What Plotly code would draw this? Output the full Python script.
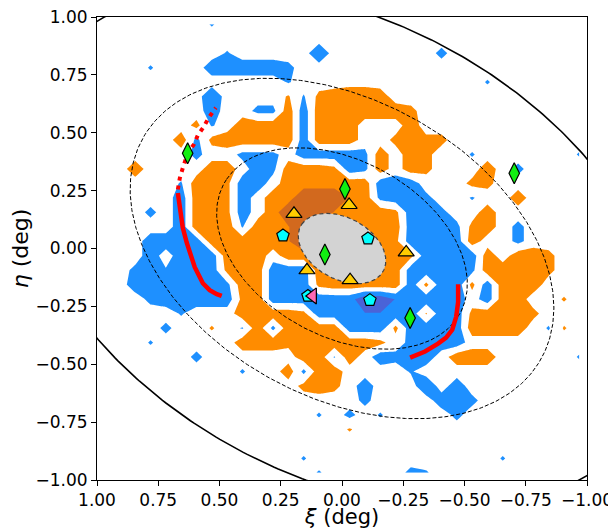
import numpy as np
import plotly.graph_objects as go

# ---------------- data ----------------
# 32x32 binned residual map, bin centres at +/-0.96875 ... step 0.0625 deg
# rows: top (eta=+0.97) -> bottom ; columns: left (xi=+0.97) -> right (xi=-0.97)
# '.' none, blue levels q<w<b<B<D (D = strongest), orange levels r<p<o<O<K (K = strongest)
GRID_ROWS = [
    ".......q........................",
    "................................",
    "........q.....B.......w.........",
    "...q...bbbbbw...................",
    "............q............q......",
    ".......B....rqpoOOo.............",
    ".......b..wwoboOOooop...........",
    "......pq.oooobo" "Oo...o...........",
    ".....owpooooobooo..popp.........",
    "......w..www.bbbbwo.op..q......q",
    "..o....oo.bwooopbwo.op...o.w....",
    ".....qoopbb.oooooobbb...pp......",
    ".....boopb.ooKKKOowbbw..q..o....",
    "...w.boopb.oKKKOooopbbw..o......",
    ".....boooqooOKoooooobbbwpo.w....",
    "...bbbboooooOKooooopbbbbo..w....",
    "...b.bbbooo.oooooooopbbbbo.oop...",
    "..wbqbbbpoobbboooooobbbbwoooop..",
    "..bbbbbbwoobbbpooooobpbbpbooo...",
    "...wbbbbbpobbbbbbDDBbbbb.boo..r.",
    ".....q...oooopbbbBBbbrbbpooop...",
    "....w..r.qowoooobbbpbbbboooo.qr.",
    "...q.....ooopooooop.wbbb.........",
    "......w......ooqo.bwwb.ooo.....q",
    ".........q..owoo....q...........",
    ".............pop.b...B.b........",
    ".................w....bbw.......",
    "..............q.w.q....w........",
    "................r...............",
    "................................",
    ".............q............q.....",
    "..............q.....wq..........",
]
LEVEL_VALUE = {'.': 0.0, 'q': -1.2, 'w': -1.6, 'b': -2.2, 'B': -2.9, 'D': -4.5,
               'r': 1.2, 'p': 1.6, 'o': 2.2, 'O': 2.9, 'K': 4.5}
N_BINS = 32
BIN_WIDTH = 0.0625

# ellipses (semi-major axes in deg), common axis ratio and orientation
ELLIPSE_MASK_A = 0.195
ELLIPSE_INNER_A = 0.558
ELLIPSE_OUTER_A = 0.943
ELLIPSE_EDGE_A = 1.438
ELLIPSE_RATIO = 0.67
ELLIPSE_ANGLE_DEG = 32.5

# red tracks
TRACK_LEFT_XI = [0.670, 0.662, 0.650, 0.634, 0.621, 0.601, 0.568, 0.540, 0.511, 0.491]
TRACK_LEFT_ETA = [0.240, 0.175, 0.090, 0.026, -0.017, -0.081, -0.150, -0.180, -0.197, -0.205]
TRACK_DOT_XI = [0.670, 0.662, 0.650, 0.630, 0.605, 0.589, 0.564, 0.544, 0.515]
TRACK_DOT_ETA = [0.255, 0.304, 0.347, 0.411, 0.449, 0.488, 0.526, 0.565, 0.608]
TRACK_RIGHT_XI = [-0.474, -0.474, -0.466, -0.450, -0.425, -0.392, -0.339, -0.278]
TRACK_RIGHT_ETA = [-0.154, -0.231, -0.295, -0.351, -0.385, -0.411, -0.445, -0.471]

# objects
DIAMOND_XI = [0.630, -0.012, 0.070, -0.278, -0.703]
DIAMOND_ETA = [0.411, 0.257, -0.026, -0.300, 0.325]
TRIANGLE_XI = [0.196, -0.029, -0.262, 0.143, -0.033]
TRIANGLE_ETA = [0.150, 0.188, -0.017, -0.094, -0.137]
PENTAGON_XI = [0.241, -0.106, -0.114, 0.139]
PENTAGON_ETA = [0.056, 0.043, -0.223, -0.205]
PINK_XI = [0.119]
PINK_ETA = [-0.205]

TICK_VALS = [1.0, 0.75, 0.5, 0.25, 0.0, -0.25, -0.5, -0.75, -1.0]
TICK_TEXT = ["1.00", "0.75", "0.50", "0.25", "0.00", "\u22120.25", "\u22120.50", "\u22120.75", "\u22121.00"]

# ---------------- build ----------------
rows = [r.ljust(N_BINS, '.')[:N_BINS] for r in GRID_ROWS]
Z = np.array([[LEVEL_VALUE.get(ch, 0.0) for ch in r] for r in rows])
centres_desc = (N_BINS / 2 - 0.5 - np.arange(N_BINS)) * BIN_WIDTH  # +0.969 ... -0.969
x_inc = centres_desc[::-1]
y_inc = centres_desc[::-1]
z_plot = Z[::-1, ::-1]

DBLUE, BLUE, ORANGE, DORANGE = "#4a63d8", "#1e90ff", "#ff8c00", "#d2691e"
CLEAR = "rgba(255,255,255,0)"


def band_scale(c1, c2):
    return [[0.0, CLEAR], [0.25, CLEAR], [0.25, c1], [0.75, c1], [0.75, c2], [1.0, c2]]


fig = go.Figure()
for sign, c1, c2 in ((-1, BLUE, DBLUE), (1, ORANGE, DORANGE)):
    fig.add_trace(go.Contour(
        x=x_inc, y=y_inc, z=sign * z_plot,
        contours=dict(start=1, end=3, size=2, coloring="fill", showlines=False),
        line=dict(width=0, smoothing=0),
        colorscale=band_scale(c1, c2), showscale=False, hoverinfo="skip"))


def ellipse(a, n=500):
    t = np.linspace(0, 2 * np.pi, n)
    th = np.radians(ELLIPSE_ANGLE_DEG)
    b = a * ELLIPSE_RATIO
    x = a * np.cos(t) * np.cos(th) - b * np.sin(t) * np.sin(th)
    y = a * np.cos(t) * np.sin(th) + b * np.sin(t) * np.cos(th)
    return x, y


mx, my = ellipse(ELLIPSE_MASK_A)
fig.add_trace(go.Scatter(x=mx, y=my, mode="lines", fill="toself", fillcolor="#d3d3d3",
                         line=dict(color="#444444", width=1.2, dash="4px,3px"), hoverinfo="skip"))
for a in (ELLIPSE_INNER_A, ELLIPSE_OUTER_A):
    ex, ey = ellipse(a)
    fig.add_trace(go.Scatter(x=ex, y=ey, mode="lines",
                             line=dict(color="black", width=1, dash="4px,2px"), hoverinfo="skip"))
ex, ey = ellipse(ELLIPSE_EDGE_A)
fig.add_trace(go.Scatter(x=ex, y=ey, mode="lines", line=dict(color="black", width=1.6), hoverinfo="skip"))

fig.add_trace(go.Scatter(x=TRACK_LEFT_XI, y=TRACK_LEFT_ETA, mode="lines",
                         line=dict(color="red", width=4.5), hoverinfo="skip"))
fig.add_trace(go.Scatter(x=TRACK_DOT_XI, y=TRACK_DOT_ETA, mode="lines",
                         line=dict(color="red", width=4, dash="4px,5px"), hoverinfo="skip"))
fig.add_trace(go.Scatter(x=TRACK_RIGHT_XI, y=TRACK_RIGHT_ETA, mode="lines",
                         line=dict(color="red", width=4.5), hoverinfo="skip"))

fig.add_trace(go.Scatter(x=DIAMOND_XI, y=DIAMOND_ETA, mode="markers",
                         marker=dict(symbol="diamond-tall", size=15, color="#11ee11",
                                     line=dict(color="black", width=1.2))))
fig.add_trace(go.Scatter(x=TRIANGLE_XI, y=TRIANGLE_ETA, mode="markers",
                         marker=dict(symbol="triangle-up", size=14, color="#ffcc00",
                                     line=dict(color="black", width=1.2))))
fig.add_trace(go.Scatter(x=PENTAGON_XI, y=PENTAGON_ETA, mode="markers",
                         marker=dict(symbol="pentagon", size=13, color="#00ffff",
                                     line=dict(color="black", width=1.2))))
fig.add_trace(go.Scatter(x=PINK_XI, y=PINK_ETA, mode="markers",
                         marker=dict(symbol="triangle-left", size=14, color="#ff69b4",
                                     line=dict(color="black", width=1.2))))

axis_common = dict(tickvals=TICK_VALS, ticktext=TICK_TEXT, ticks="outside", ticklen=5,
                   tickwidth=1, tickcolor="black", showline=True, linecolor="black",
                   linewidth=1, mirror=True, showgrid=False, zeroline=False,
                   ticklabeloverflow="allow",
                   tickfont=dict(size=17, color="black", family="DejaVu Sans"))
# the page adds an 8px body margin, so the figure is 8px smaller than the window
fig.update_layout(
    width=608, height=521, template="none",
    margin=dict(l=89, r=29, t=9, b=49),
    plot_bgcolor="white", paper_bgcolor="white", showlegend=False,
    font=dict(family="DejaVu Sans", color="black"),
    xaxis=dict(range=[1, -1], title=dict(text="<i>\u03be</i> (deg)", font=dict(size=21), standoff=5),
               **axis_common),
    yaxis=dict(range=[-1, 1], title=dict(text="<i>\u03b7</i> (deg)", font=dict(size=22), standoff=4),
               **axis_common),
)
fig.write_html("out.html")
